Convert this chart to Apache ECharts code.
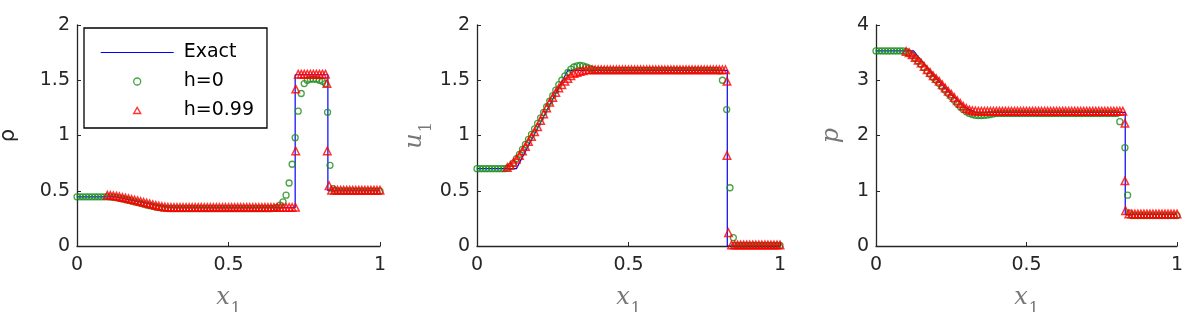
<!DOCTYPE html>
<html>
<head>
<meta charset="utf-8">
<script src="https://cdn.jsdelivr.net/npm/echarts@6/dist/echarts.min.js"></script>
<style>html,body{margin:0;padding:0;background:#fff}#c{width:1188px;height:312px}</style>
</head>
<body>
<div id="c"></div>
<script>
// shared numerical grid (x1 positions of the plotted cells)
const xGrid = [0.00,0.01,0.02,0.03,0.04,0.05,0.06,0.07,0.08,0.09,
  0.10,0.11,0.12,0.13,0.14,0.15,0.16,0.17,0.18,0.19,
  0.20,0.21,0.22,0.23,0.24,0.25,0.26,0.27,0.28,0.29,
  0.30,0.31,0.32,0.33,0.34,0.35,0.36,0.37,0.38,0.39,
  0.40,0.41,0.42,0.43,0.44,0.45,0.46,0.47,0.48,0.49,
  0.50,0.51,0.52,0.53,0.54,0.55,0.56,0.57,0.58,0.59,
  0.60,0.61,0.62,0.63,0.64,0.65,0.66,0.67,0.68,0.69,
  0.70,0.71,0.72,0.73,0.74,0.75,0.76,0.77,0.78,0.79,
  0.80,0.81,0.82,0.83,0.84,0.85,0.86,0.87,0.88,0.89,
  0.90,0.91,0.92,0.93,0.94,0.95,0.96,0.97,0.98,0.99,1.00];

// ---------- density rho ----------
const rhoExactX = [0,0.125,0.15,0.175,0.2,0.225,0.25,0.275,0.3,0.32,0.72,0.72,0.828,0.828,1];
const rhoExactY = [0.445,0.445,0.432,0.418,0.404,0.39,0.376,0.364,0.354,0.346,0.346,1.55,1.55,0.5,0.5];
const rhoH0 = [0.445,0.445,0.445,0.445,0.445,0.445,0.445,0.445,0.445,0.445,
  0.445,0.444,0.442,0.438,0.433,0.427,0.421,0.414,0.407,0.400,
  0.393,0.386,0.379,0.372,0.365,0.359,0.353,0.348,0.344,0.341,
  0.339,0.338,0.338,0.338,0.338,0.338,0.338,0.338,0.338,0.338,
  0.338,0.338,0.338,0.338,0.338,0.338,0.338,0.338,0.338,0.338,
  0.338,0.338,0.338,0.338,0.338,0.338,0.338,0.338,0.338,0.338,
  0.338,0.338,0.338,0.338,0.338,0.340,0.350,0.370,0.400,0.460,
  0.570,0.740,0.980,1.220,1.380,1.470,1.500,1.510,1.510,1.510,
  1.500,1.490,1.470,null,null,0.500,0.497,0.497,0.497,0.497,
  0.497,0.497,0.497,0.497,0.497,0.497,0.497,0.497,0.497,0.497,0.497];
const rhoH0Extra = [[0.827,1.21],[0.835,0.73],[0.845,0.52]];
const rhoH99 = [null,null,null,null,null,null,null,null,null,null,
  0.460,0.458,0.455,0.451,0.446,0.440,0.434,0.428,0.422,0.416,
  0.410,0.403,0.396,0.389,0.382,0.375,0.368,0.362,0.357,0.353,
  0.351,0.349,0.349,0.349,0.349,0.349,0.349,0.349,0.349,0.349,
  0.349,0.349,0.349,0.349,0.349,0.349,0.349,0.349,0.349,0.349,
  0.349,0.349,0.349,0.349,0.349,0.349,0.349,0.349,0.349,0.349,
  0.349,0.349,0.349,0.349,0.349,0.349,0.349,0.349,0.349,0.349,
  0.349,0.349,null,1.555,1.555,1.555,1.555,1.555,1.555,1.555,
  1.555,1.555,1.555,null,0.505,0.505,0.505,0.505,0.505,0.505,
  0.505,0.505,0.505,0.505,0.505,0.505,0.505,0.505,0.505,0.505,0.505];
const rhoH99Extra = [[0.721,0.35],[0.722,0.86],[0.722,1.42],[0.825,1.47],[0.826,0.86],[0.832,0.545]];

// ---------- velocity u1 ----------
const uExactX = [0,0.13,0.30,0.826,0.826,1];
const uExactY = [0.7,0.7,1.59,1.59,0,0];
const uH0 = [0.700,0.700,0.700,0.700,0.700,0.700,0.700,0.700,0.700,0.700,
  0.705,0.720,0.750,0.790,0.830,0.875,0.920,0.965,1.010,1.060,
  1.110,1.160,1.210,1.260,1.310,1.360,1.410,1.460,1.500,1.540,
  1.570,1.600,1.620,1.630,1.635,1.630,1.620,1.610,1.600,1.590,
  1.590,1.590,1.590,1.590,1.590,1.590,1.590,1.590,1.590,1.590,
  1.590,1.590,1.590,1.590,1.590,1.590,1.590,1.590,1.590,1.590,
  1.590,1.590,1.590,1.590,1.590,1.590,1.590,1.590,1.590,1.590,
  1.590,1.590,1.590,1.590,1.590,1.590,1.590,1.590,1.590,1.590,
  1.585,1.500,null,null,null,0.005,0.005,0.005,0.005,0.005,
  0.005,0.005,0.005,0.005,0.005,0.005,0.005,0.005,0.005,0.005,0.005];
const uH0Extra = [[0.824,1.235],[0.835,0.527],[0.846,0.075]];
const uH99 = [null,null,null,null,null,null,null,null,null,null,
  0.710,0.730,0.755,0.785,0.820,0.860,0.900,0.945,0.990,1.035,
  1.080,1.135,1.195,1.250,1.300,1.345,1.390,1.430,1.460,1.490,
  1.515,1.540,1.560,1.570,1.580,1.585,1.595,1.595,1.595,1.595,
  1.595,1.595,1.595,1.595,1.595,1.595,1.595,1.595,1.595,1.595,
  1.595,1.595,1.595,1.595,1.595,1.595,1.595,1.595,1.595,1.595,
  1.595,1.595,1.595,1.595,1.595,1.595,1.595,1.595,1.595,1.595,
  1.595,1.595,1.595,1.595,1.595,1.595,1.595,1.595,1.595,1.595,
  1.595,1.595,1.595,null,0.010,0.010,0.010,0.010,0.010,0.010,
  0.010,0.010,0.010,0.010,0.010,0.010,0.010,0.010,0.010,0.010,0.010];
const uH99Extra = [[0.825,1.49],[0.825,0.82],[0.83,0.12]];

// ---------- pressure p ----------
const pExactX = [0,0.125,0.15,0.2,0.25,0.3,0.33,0.828,0.828,1];
const pExactY = [3.53,3.53,3.36,3.03,2.74,2.5,2.42,2.42,0.57,0.57];
const pH0 = [3.53,3.53,3.53,3.53,3.53,3.53,3.53,3.53,3.53,3.53,
  3.52,3.49,3.45,3.40,3.35,3.29,3.23,3.17,3.11,3.05,
  3.00,2.94,2.88,2.82,2.76,2.70,2.64,2.58,2.52,2.47,
  2.43,2.40,2.38,2.365,2.36,2.36,2.365,2.37,2.38,2.39,
  2.40,2.40,2.40,2.40,2.40,2.40,2.40,2.40,2.40,2.40,
  2.40,2.40,2.40,2.40,2.40,2.40,2.40,2.40,2.40,2.40,
  2.40,2.40,2.40,2.40,2.40,2.40,2.40,2.40,2.40,2.40,
  2.40,2.40,2.40,2.40,2.40,2.40,2.40,2.40,2.40,2.40,
  2.40,2.25,null,null,null,0.55,0.55,0.55,0.55,0.55,
  0.55,0.55,0.55,0.55,0.55,0.55,0.55,0.55,0.55,0.55,0.55];
const pH0Extra = [[0.827,1.78],[0.836,0.92],[0.842,0.60]];
const pH99 = [null,null,null,null,null,null,null,null,null,null,
  3.52,3.50,3.46,3.41,3.36,3.31,3.25,3.19,3.14,3.08,
  3.03,2.98,2.92,2.86,2.80,2.75,2.69,2.63,2.58,2.53,
  2.49,2.465,2.45,2.445,2.44,2.44,2.44,2.44,2.44,2.44,
  2.44,2.44,2.44,2.44,2.44,2.44,2.44,2.44,2.44,2.44,
  2.44,2.44,2.44,2.44,2.44,2.44,2.44,2.44,2.44,2.44,
  2.44,2.44,2.44,2.44,2.44,2.44,2.44,2.44,2.44,2.44,
  2.44,2.44,2.44,2.44,2.44,2.44,2.44,2.44,2.44,2.44,
  2.44,2.44,2.44,null,0.58,0.58,0.58,0.58,0.58,0.58,
  0.58,0.58,0.58,0.58,0.58,0.58,0.58,0.58,0.58,0.58,0.58];
const pH99Extra = [[0.827,2.22],[0.827,1.18],[0.829,0.64]];

// tick settings
const xTicks = {min:0, max:1, interval:0.5};
const yMax = [2, 2, 4];
const yInterval = [0.5, 0.5, 1];
const legendNames = ['Exact','h=0','h=0.99'];

function pairs(xs, ys){ const out=[]; for(let i=0;i<xs.length;i++){ if(ys[i]!==null) out.push([xs[i],ys[i]]); } return out; }

const AX = '#262626';
const GREEN = '#1a8c1a', RED = '#ff0000', BLUE = '#0000ff';
const TICKFONT = {fontFamily:'DejaVu Sans', fontSize:19, color:AX};
const grids = [
  {left:77, top:25, width:303, height:221, outerBoundsMode:'none', containLabel:false},
  {left:477, top:25, width:303, height:221, outerBoundsMode:'none', containLabel:false},
  {left:876, top:25, width:301, height:221, outerBoundsMode:'none', containLabel:false}
];
const latex = {
  v:{fontFamily:'DejaVu Serif', fontStyle:'italic', fontSize:24, color:'#777'},
  s:{fontFamily:'DejaVu Serif', fontSize:16, color:'#777', verticalAlign:'bottom', padding:[0,0,-8,1]}
};
const yNames = [
  {name:'ρ', gap:58, textStyle:{fontFamily:'DejaVu Sans', fontSize:21, color:AX}},
  {name:'{v|u}{s|1}', gap:50, textStyle:{rich:latex}},
  {name:'{v|p}', gap:32, textStyle:{rich:latex}}
];
const xAxes = grids.map((g,i)=>({
  type:'value', gridIndex:i, min:xTicks.min, max:xTicks.max, interval:xTicks.interval,
  axisLine:{lineStyle:{color:AX,width:1.3}},
  axisTick:{inside:true,length:4,lineStyle:{color:AX}},
  splitLine:{show:false},
  axisLabel:Object.assign({margin:10}, TICKFONT),
  name:'{v|x}{s|1}', nameLocation:'middle', nameGap:40,
  nameTextStyle:{rich:latex}
}));
const yAxes = grids.map((g,i)=>({
  type:'value', gridIndex:i, min:0, max:yMax[i], interval:yInterval[i],
  axisLine:{show:true,lineStyle:{color:AX,width:1.3}},
  axisTick:{show:true,inside:true,length:4,lineStyle:{color:AX}},
  splitLine:{show:false},
  axisLabel:Object.assign({margin:7}, TICKFONT),
  name:yNames[i].name, nameLocation:'middle', nameRotate:90, nameGap:yNames[i].gap,
  nameTextStyle:yNames[i].textStyle
}));

const exactX=[rhoExactX,uExactX,pExactX], exactY=[rhoExactY,uExactY,pExactY];
const h0=[rhoH0,uH0,pH0], h0x=[rhoH0Extra,uH0Extra,pH0Extra];
const h99=[rhoH99,uH99,pH99], h99x=[rhoH99Extra,uH99Extra,pH99Extra];
const series=[];
for(let i=0;i<3;i++){
  series.push({name:legendNames[0], type:'line', xAxisIndex:i, yAxisIndex:i, symbol:'none', showSymbol:false,
    data:pairs(exactX[i],exactY[i]), lineStyle:{color:BLUE,width:1.2}, itemStyle:{color:BLUE}, z:2});
  series.push({name:legendNames[1], type:'scatter', xAxisIndex:i, yAxisIndex:i, symbol:'circle', symbolSize:6,
    symbolKeepAspect:true,
    data:pairs(xGrid,h0[i]).concat(h0x[i]),
    itemStyle:{color:'rgba(0,0,0,0)', borderColor:GREEN, borderWidth:1.3}, z:3});
  series.push({name:legendNames[2], type:'scatter', xAxisIndex:i, yAxisIndex:i, symbol:'triangle', symbolSize:7.5,
    symbolKeepAspect:true,
    data:pairs(xGrid,h99[i]).concat(h99x[i]),
    itemStyle:{color:'rgba(0,0,0,0)', borderColor:RED, borderWidth:1.5}, z:4});
}

const chart = echarts.init(document.getElementById('c'), null, {renderer:'canvas'});
chart.setOption({
  animation:false,
  backgroundColor:'#fff',
  grid:grids,
  xAxis:xAxes,
  yAxis:yAxes,
  legend:{
    data:[
      {name:legendNames[0], icon:'path://M0,0L0,0ZM0,7L0,7ZM0,2.9L73,2.9L73,4.1L0,4.1Z',
        itemStyle:{color:BLUE, borderWidth:0}},
      {name:legendNames[1], icon:'circle', itemStyle:{color:'rgba(0,0,0,0)', borderColor:GREEN, borderWidth:1.3}},
      {name:legendNames[2], icon:'path://M0,0L0,0ZM73,7L73,7ZM33,6.5L36.5,0.5L40,6.5Z',
        itemStyle:{color:'rgba(0,0,0,0)', borderColor:RED, borderWidth:1.4}}
    ],
    orient:'vertical', left:84, top:28,
    padding:[15,13,8,16], itemWidth:73, itemHeight:7, itemGap:10,
    backgroundColor:'#fff', borderColor:'#000', borderWidth:1.3,
    textStyle:{fontFamily:'DejaVu Sans', fontSize:19, color:'#000', padding:[0,0,0,5]},
    selectedMode:false
  },
  series:series
});
</script>
</body>
</html>
